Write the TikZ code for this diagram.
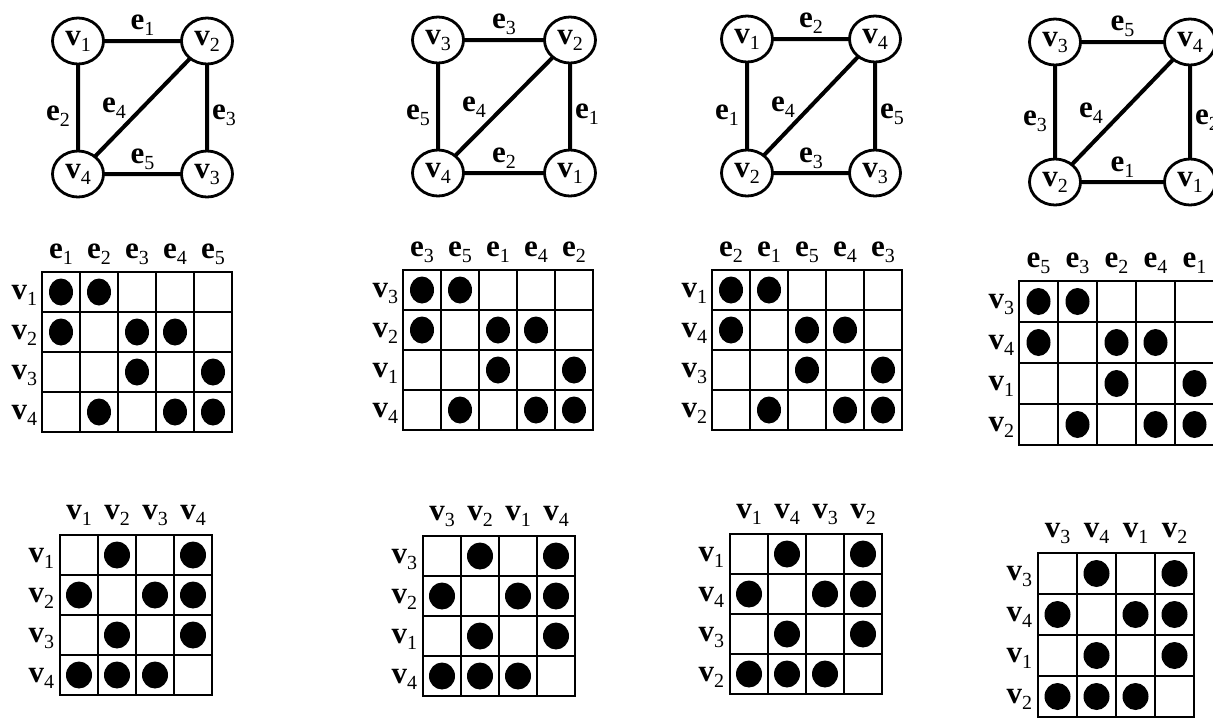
\documentclass[tikz,border=0pt]{standalone}
\usepackage{fontspec}
\setmainfont{Liberation Serif}
\usetikzlibrary{shapes.geometric,positioning}

\newcommand{\lab}[2]{\textbf{#1}\raisebox{-6pt}{\fontsize{20}{20}\selectfont #2}}

\begin{document}
\begin{tikzpicture}[
  x=1pt, y=-1pt,
  every node/.style={font=\fontsize{31}{31}\selectfont, inner sep=0pt},
  vert/.style={draw, ellipse, fill=white, line width=2.8pt, minimum width=51pt, minimum height=46pt},
  edge/.style={line width=4pt},
  cell/.style={draw, line width=1.3pt},
  dot/.style={fill=black}
]
  \useasboundingbox (0,0) rectangle (1213,718);
  % panel / graph L R T B / incidence x y / adjacency x y / cell w h / vertex labels / edge labels
  \foreach \p/\L/\R/\T/\B/\ix/\iy/\ax/\ay/\cw/\ch/\va/\vb/\vc/\vd/\ea/\eb/\ec/\ed/\ee in {
    1/78/207/41/174/42/272/60/535/38/40/1/2/3/4/1/2/3/4/5,
    2/438/570/40/173/403/270/423/536/38/40/3/2/1/4/3/5/1/4/2,
    3/747/875/39/173/712/270/730/534/38/40/1/4/3/2/2/1/5/4/3,
    4/1055/1190/42/182/1019/281/1038/553/39/41/3/4/1/2/5/3/2/4/1}
  {
    % graph
    \draw[edge] (\L,\T) -- (\R,\T) -- (\R,\B) -- (\L,\B) -- cycle (\L,\B) -- (\R,\T);
    \node[vert] (tl\p) at (\L,\T) {\lab{v}{\va}};
    \node[vert] (tr\p) at (\R,\T) {\lab{v}{\vb}};
    \node[vert] (br\p) at (\R,\B) {\lab{v}{\vc}};
    \node[vert] (bl\p) at (\L,\B) {\lab{v}{\vd}};
    \node[anchor=base] (et\p) at ({(\L+\R)/2},{\T-12}) {\lab{e}{\ea}};
    \node[anchor=base east] (el\p) at ({\L-8},{(\T+\B)/2+13}) {\lab{e}{\eb}};
    \node[anchor=base west] (er\p) at ({\R+5},{(\T+\B)/2+12}) {\lab{e}{\ec}};
    \node[anchor=base] (ed\p) at ({\L+36},{(\T+\B)/2+5}) {\lab{e}{\ed}};
    \node[anchor=base] (eb\p) at ({(\L+\R)/2},{\B-11}) {\lab{e}{\ee}};

    % incidence matrix
    \foreach \r in {1,...,4}
      \foreach \c in {1,...,5}
        \node[cell, minimum width=\cw*1pt, minimum height=\ch*1pt]
          (i\p-\r-\c) at ({\ix+(\c-0.5)*\cw},{\iy+(\r-0.5)*\ch}) {};
    \foreach \r/\c in {1/1,1/2,2/1,2/3,2/4,3/3,3/5,4/2,4/4,4/5}
      \fill[dot] (i\p-\r-\c) ellipse (12pt and 13.5pt);
    \foreach \r/\lv in {1/\va,2/\vb,3/\vc,4/\vd}
      \node[anchor=base east] (ir\p-\r) at ([xshift=-4pt, yshift=-7pt]i\p-\r-1.west) {\lab{v}{\lv}};
    \foreach \c/\le in {1/\ea,2/\eb,3/\ec,4/\ed,5/\ee}
      \node[anchor=base] (ic\p-\c) at ([yshift=13pt]i\p-1-\c.north) {\lab{e}{\le}};

    % adjacency matrix
    \foreach \r in {1,...,4}
      \foreach \c in {1,...,4}
        \node[cell, minimum width=\cw*1pt, minimum height=\ch*1pt]
          (a\p-\r-\c) at ({\ax+(\c-0.5)*\cw},{\ay+(\r-0.5)*\ch}) {};
    \foreach \r/\c in {1/2,1/4,2/1,2/3,2/4,3/2,3/4,4/1,4/2,4/3}
      \fill[dot] (a\p-\r-\c) ellipse (13pt and 13.5pt);
    \foreach \r/\lv in {1/\va,2/\vb,3/\vc,4/\vd}
      \node[anchor=base east] (ar\p-\r) at ([xshift=-5pt, yshift=-7pt]a\p-\r-1.west) {\lab{v}{\lv}};
    \foreach \c/\lv in {1/\va,2/\vb,3/\vc,4/\vd}
      \node[anchor=base] (ac\p-\c) at ([yshift=15pt]a\p-1-\c.north) {\lab{v}{\lv}};
  }
\end{tikzpicture}
\end{document}
